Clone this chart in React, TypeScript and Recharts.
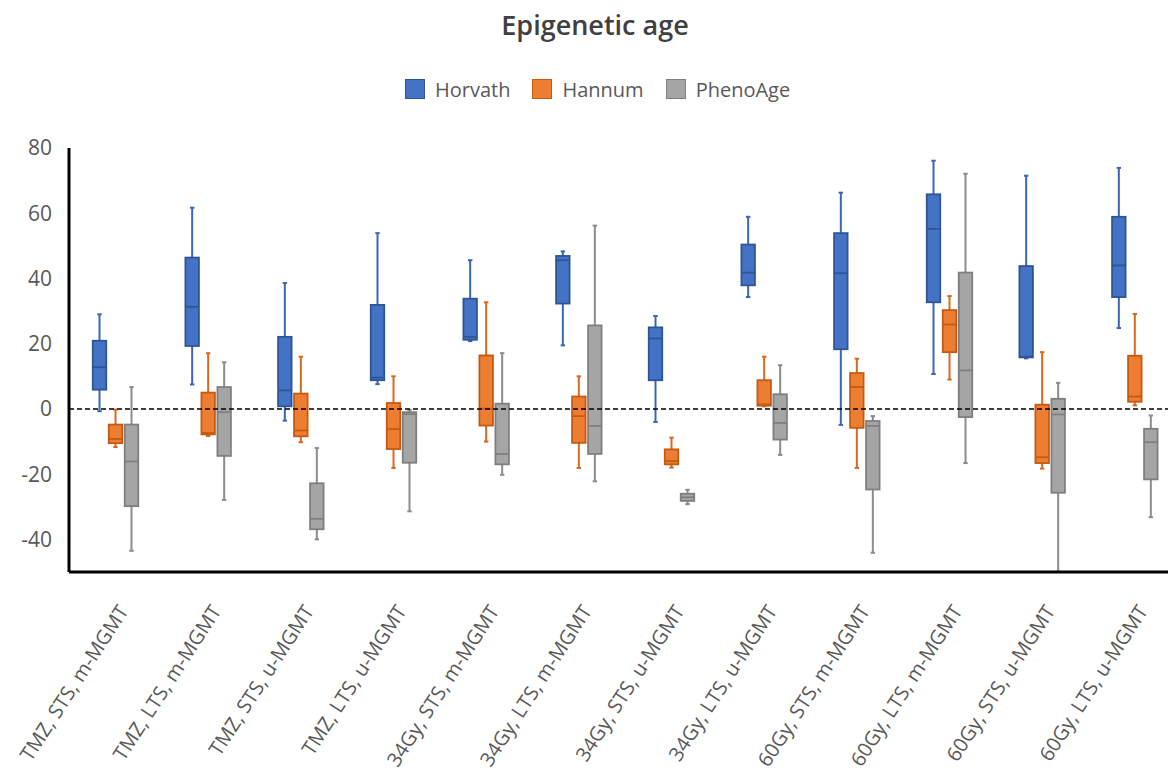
import React from 'react';
import { ComposedChart, Bar, XAxis, YAxis, ReferenceLine, Legend } from 'recharts';

const FONT = '"Open Sans", "Noto Sans", sans-serif';

const categories = [
  'TMZ, STS, m-MGMT', 'TMZ, LTS, m-MGMT', 'TMZ, STS, u-MGMT', 'TMZ, LTS, u-MGMT',
  '34Gy, STS, m-MGMT', '34Gy, LTS, m-MGMT', '34Gy, STS, u-MGMT', '34Gy, LTS, u-MGMT',
  '60Gy, STS, m-MGMT', '60Gy, LTS, m-MGMT', '60Gy, STS, u-MGMT', '60Gy, LTS, u-MGMT',
];

const yTicks = [-40, -20, 0, 20, 40, 60, 80];

const horvathMax = [29.0, 61.7, 38.6, 53.9, 45.6, 48.3, 28.5, 58.9, 66.3, 76.1, 71.5, 73.9];
const horvathQ3 = [20.9, 46.4, 22.1, 31.9, 33.8, 46.9, 25.0, 50.4, 53.9, 65.8, 43.8, 58.9];
const horvathMedian = [12.8, 31.3, 5.7, 9.6, 22.1, 45.6, 21.6, 41.8, 41.6, 55.2, 16.0, 44.0];
const horvathQ1 = [5.9, 19.3, 0.8, 8.8, 21.2, 32.3, 8.8, 37.9, 18.3, 32.7, 15.8, 34.3];
const horvathMin = [-0.7, 7.5, -3.6, 7.6, 20.8, 19.5, -4.0, 34.3, -4.9, 10.7, 15.5, 24.8];

const hannumMax = [-0.2, 17.1, 16.0, 10.0, 32.7, 10.0, -8.8, 16.0, 15.4, 34.6, 17.4, 29.1];
const hannumQ3 = [-4.8, 5.0, 4.7, 1.8, 16.4, 3.8, -12.4, 8.8, 11.0, 30.3, 1.3, 16.3];
const hannumMedian = [-9.2, -7.4, -6.6, -6.2, 0.1, -2.2, -16.0, 1.4, 6.7, 25.9, -14.8, 3.8];
const hannumQ1 = [-10.5, -7.8, -8.4, -12.3, -5.1, -10.4, -17.0, 1.0, -5.8, 17.4, -16.6, 2.2];
const hannumMin = [-11.7, -8.3, -10.2, -18.1, -10.0, -18.1, -18.0, 0.8, -18.1, 9.0, -18.3, 1.1];

const phenoMax = [6.7, 14.3, -12.0, -0.3, 17.1, 56.2, -24.8, 13.4, -2.2, 72.1, 8.0, -2.0];
const phenoQ3 = [-4.8, 6.7, -22.8, -1.0, 1.6, 25.6, -26.0, 4.5, -3.7, 41.8, 3.1, -6.1];
const phenoMedian = [-16.1, -1.0, -33.7, -1.6, -13.8, -5.2, -27.1, -4.3, -5.2, 11.8, -1.7, -10.2];
const phenoQ1 = [-29.8, -14.4, -36.9, -16.5, -17.0, -13.8, -28.2, -9.4, -24.7, -2.5, -25.7, -21.6];
const phenoMin = [-43.5, -27.9, -40.0, -31.4, -20.2, -22.2, -29.2, -14.1, -44.1, -16.6, -49.9, -33.2];

const data = categories.map((name, i) => ({
  name,
  hMin: horvathMin[i], hQ1: horvathQ1[i], hMed: horvathMedian[i], hQ3: horvathQ3[i], hMax: horvathMax[i],
  aMin: hannumMin[i], aQ1: hannumQ1[i], aMed: hannumMedian[i], aQ3: hannumQ3[i], aMax: hannumMax[i],
  pMin: phenoMin[i], pQ1: phenoQ1[i], pMed: phenoMedian[i], pQ3: phenoQ3[i], pMax: phenoMax[i],
}));

const series = [
  { prefix: 'h', name: 'Horvath', fill: '#4472C4', stroke: '#2F5597', whisker: '#3B66B5' },
  { prefix: 'a', name: 'Hannum', fill: '#ED7D31', stroke: '#C55A11', whisker: '#D9691F' },
  { prefix: 'p', name: 'PhenoAge', fill: '#A5A5A5', stroke: '#7F7F7F', whisker: '#8C8C8C' },
];

function BoxShape(props: any) {
  const { x, y, width, height, payload, prefix, fill, stroke, whisker } = props;
  if (x == null || y == null || !payload) return null;
  const mn = payload[prefix + 'Min'];
  const q1 = payload[prefix + 'Q1'];
  const med = payload[prefix + 'Med'];
  const q3 = payload[prefix + 'Q3'];
  const mx = payload[prefix + 'Max'];
  const top = Math.min(y, y + height);
  const bot = Math.max(y, y + height);
  const span = mx - mn || 1;
  const toY = (v: number) => bot - ((v - mn) / span) * (bot - top);
  const cx = x + width / 2;
  const bx = x + 0.75;
  const bw = width - 1.5;
  const capHalf = 2.2;
  return (
    <g>
      <line x1={cx} x2={cx} y1={toY(mx)} y2={toY(q3)} stroke={whisker} strokeWidth={2} />
      <line x1={cx} x2={cx} y1={toY(q1)} y2={toY(mn)} stroke={whisker} strokeWidth={2} />
      <line x1={cx - capHalf} x2={cx + capHalf} y1={toY(mx)} y2={toY(mx)} stroke={whisker} strokeWidth={2} />
      <line x1={cx - capHalf} x2={cx + capHalf} y1={toY(mn)} y2={toY(mn)} stroke={whisker} strokeWidth={2} />
      <rect x={bx} y={toY(q3)} width={bw} height={Math.max(toY(q1) - toY(q3), 0.5)} fill={fill} stroke={stroke} strokeWidth={1.8} />
      <line x1={bx} x2={bx + bw} y1={toY(med)} y2={toY(med)} stroke={stroke} strokeWidth={1.8} />
    </g>
  );
}

function XTick(props: any) {
  const { x, y, payload } = props;
  return (
    <text
      transform={`translate(${x + 14},${y + 31}) rotate(-57)`}
      textAnchor="end"
      fontFamily={FONT}
      fontSize={20}
      fill="#595959"
    >
      {payload.value}
    </text>
  );
}

function LegendContent() {
  return (
    <div style={{ display: 'flex', alignItems: 'center', height: 24, fontFamily: FONT, fontSize: 20, color: '#595959', whiteSpace: 'nowrap' }}>
      {series.map((s) => (
        <div key={s.name} style={{ display: 'flex', alignItems: 'center', marginRight: 22 }}>
          <span style={{ display: 'inline-block', width: 18, height: 18, background: s.fill, border: `1px solid ${s.stroke}`, marginRight: 10 }} />
          <span>{s.name}</span>
        </div>
      ))}
    </div>
  );
}

export default function App() {
  return (
    <div style={{ position: 'fixed', left: 0, top: 0, width: 1168, height: 773, overflow: 'hidden', background: '#fff', fontFamily: FONT }}>
      <div style={{ position: 'absolute', left: 595, top: 11, transform: 'translateX(-50%)', fontSize: 27, lineHeight: '27px', fontWeight: 600, color: '#404040', whiteSpace: 'nowrap' }}>
        Epigenetic age
      </div>
      <ComposedChart
        width={1190}
        height={773}
        data={data}
        margin={{ top: 148, right: 9, bottom: 0, left: 0 }}
        barGap={1}
      >
        <Legend
          verticalAlign="middle"
          align="center"
          layout="horizontal"
          content={<LegendContent />}
          wrapperStyle={{ top: 77, left: 405, width: 500, height: 24 }}
        />
        <XAxis
          dataKey="name"
          interval={0}
          height={201}
          tickLine={false}
          axisLine={{ stroke: '#000', strokeWidth: 3 }}
          tick={<XTick />}
        />
        <YAxis
          type="number"
          domain={[-50, 80]}
          ticks={yTicks}
          allowDataOverflow
          width={69}
          tickLine={false}
          tickSize={6}
          tickMargin={11}
          axisLine={{ stroke: '#000', strokeWidth: 3 }}
          tick={{ fill: '#595959', fontSize: 21, fontFamily: FONT }}
        />
        {series.map((s) => (
          <Bar
            key={s.prefix}
            name={s.name}
            dataKey={(d: any) => [d[s.prefix + 'Min'], d[s.prefix + 'Max']]}
            barSize={15}
            fill={s.fill}
            isAnimationActive={false}
            shape={(p: any) => <BoxShape {...p} prefix={s.prefix} fill={s.fill} stroke={s.stroke} whisker={s.whisker} />}
          />
        ))}
        <ReferenceLine y={0} stroke="#000" strokeWidth={1.5} strokeDasharray="5 3" />
      </ComposedChart>
    </div>
  );
}
